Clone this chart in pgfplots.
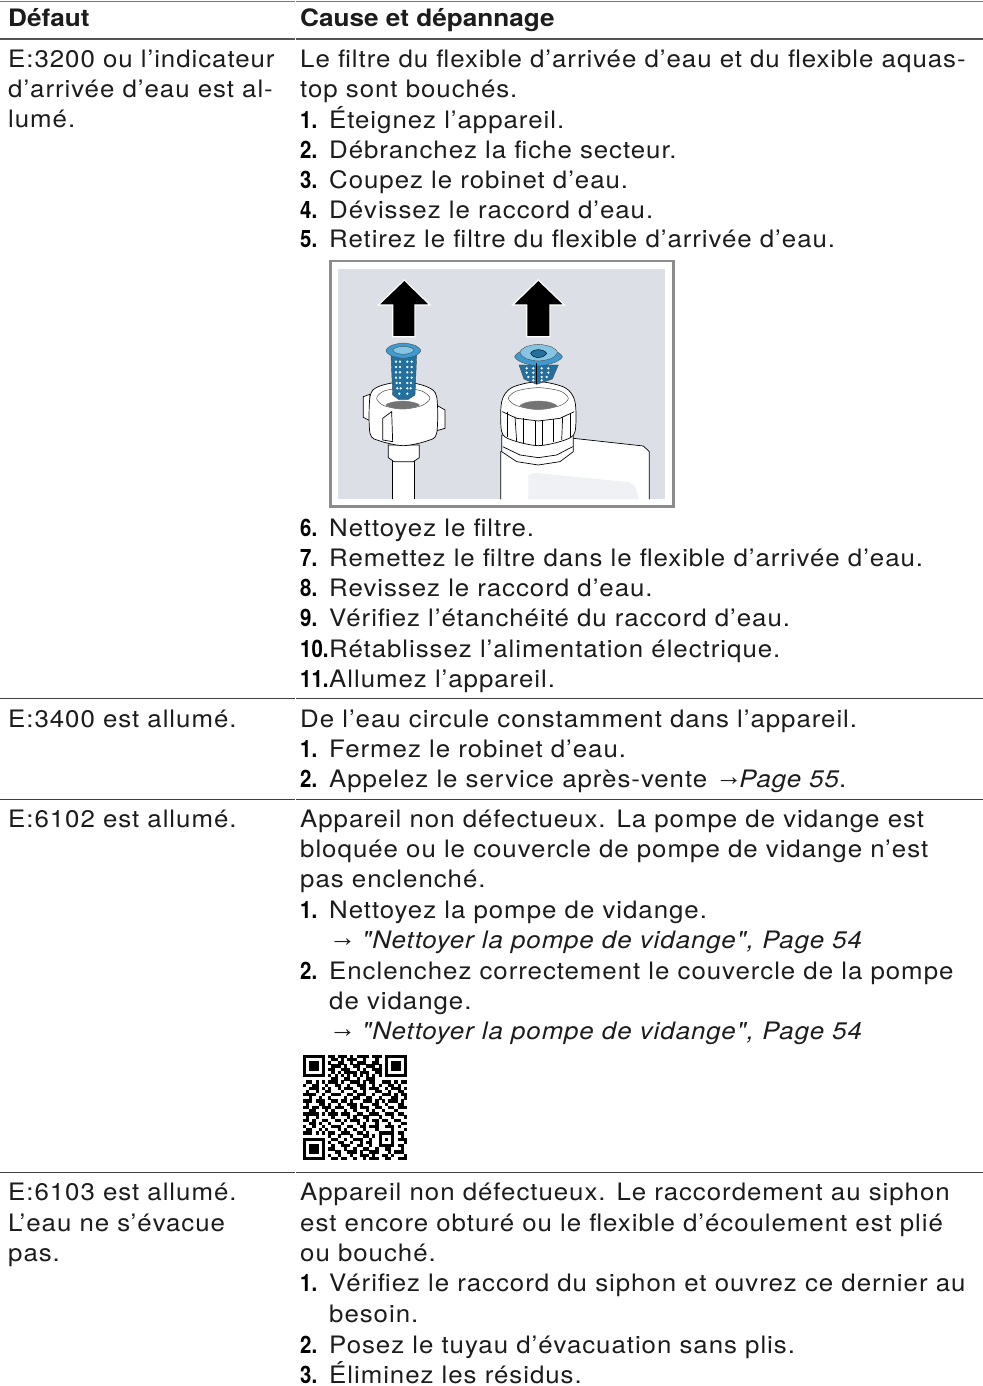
\documentclass[border=0pt]{standalone}
\usepackage{pgfplots}
\usepackage{fontspec}
\pgfplotsset{compat=1.18}
\setmainfont[Ligatures=TeXOff,LetterSpace=4,FakeStretch=1.077,BoldFeatures={LetterSpace=0,FakeStretch=1.09},ItalicFeatures={LetterSpace=4,FakeStretch=1.077}]{TeX Gyre Heros}
\newfontfamily\numf[FakeStretch=0.85]{TeX Gyre Heros}
\newfontfamily\sym{Liberation Sans}
\definecolor{ink}{HTML}{1C1C1C}
\definecolor{rule}{HTML}{555555}
\definecolor{bg}{HTML}{DCDFE6}
\definecolor{frm}{HTML}{8C8C8C}
\definecolor{blueA}{HTML}{3E9AD0}
\definecolor{blueB}{HTML}{23709F}
\definecolor{blueC}{HTML}{86C4E4}
\newcommand{\Tx}[3]{\node[anchor=base west,inner sep=0pt,text=ink,font=\fontsize{24bp}{29bp}\selectfont] at (axis cs:#1,#2) {#3};}
\newcommand{\Nm}[3]{\node[anchor=base west,inner sep=0pt,text=black,font=\fontsize{24bp}{29bp}\numf\bfseries] at (axis cs:#1,#2) {#3};}
\newcommand{\Ar}{\raisebox{1.5bp}{\sym\fontsize{27bp}{29bp}\selectfont →}}
\pgfplotsset{pl/.style={draw=black,line width=0.7bp,fill=white}}
\begin{document}
\begin{tikzpicture}
\path[use as bounding box,fill=white] (0,0) rectangle (983bp,1386bp);
\begin{axis}[at={(0,0)},anchor=south west,scale only axis,width=983bp,height=1386bp,xmin=0,xmax=983,ymin=0,ymax=1386,y dir=reverse,hide axis,clip=false]
\addplot[rule!80,line width=0.9bp,forget plot] coordinates {(0,1)(294.5,1)};
\addplot[rule!80,line width=0.9bp,forget plot] coordinates {(295.8,1)(983,1)};
\addplot[rule,line width=1.6bp,forget plot] coordinates {(0,39)(294.5,39)};
\addplot[rule,line width=1.6bp,forget plot] coordinates {(295.8,39)(983,39)};
\addplot[black!75,line width=1bp,forget plot] coordinates {(0,698.7)(294.5,698.7)};
\addplot[black!75,line width=1bp,forget plot] coordinates {(295.8,698.7)(983,698.7)};
\addplot[black!75,line width=1bp,forget plot] coordinates {(0,799)(294.5,799)};
\addplot[black!75,line width=1bp,forget plot] coordinates {(295.8,799)(983,799)};
\addplot[black!75,line width=1bp,forget plot] coordinates {(0,1172.7)(294.5,1172.7)};
\addplot[black!75,line width=1bp,forget plot] coordinates {(295.8,1172.7)(983,1172.7)};
\Tx{8}{27}{\textbf{Défaut}}
\Tx{300}{27}{\textbf{Cause et dépannage}}
\Tx{8}{68}{E:3200 ou l’indicateur}
\Tx{8}{98}{d’arrivée d’eau est al-}
\Tx{8}{128}{lumé.}
\Tx{300}{68}{Le filtre du flexible d’arrivée d’eau et du flexible aquas-}
\Tx{300}{98}{top sont bouchés.}
\Nm{300}{128.5}{1.}\Tx{329}{128.5}{Éteignez l’appareil.}
\Nm{300}{158.5}{2.}\Tx{329}{158.5}{Débranchez la fiche secteur.}
\Nm{300}{188.5}{3.}\Tx{329}{188.5}{Coupez le robinet d’eau.}
\Nm{300}{218.5}{4.}\Tx{329}{218.5}{Dévissez le raccord d’eau.}
\Nm{300}{248}{5.}\Tx{329}{248}{Retirez le filtre du flexible d’arrivée d’eau.}
\Nm{300}{536}{6.}\Tx{329}{536}{Nettoyez le filtre.}
\Nm{300}{566}{7.}\Tx{329}{566}{Remettez le filtre dans le flexible d’arrivée d’eau.}
\Nm{300}{596.5}{8.}\Tx{329}{596.5}{Revissez le raccord d’eau.}
\Nm{300}{626.7}{9.}\Tx{329}{626.7}{Vérifiez l’étanchéité du raccord d’eau.}
\Nm{300}{657.3}{10.}\Tx{329}{657.3}{Rétablissez l’alimentation électrique.}
\Nm{300}{687.3}{11.}\Tx{329}{687.3}{Allumez l’appareil.}
\Tx{8}{727.3}{E:3400 est allumé.}
\Tx{300}{727.3}{De l’eau circule constamment dans l’appareil.}
\Nm{300}{757.3}{1.}\Tx{329}{757.3}{Fermez le robinet d’eau.}
\Nm{300}{787.3}{2.}\Tx{329}{787.3}{Appelez le service après-vente \Ar\hspace{-3bp}\textit{Page 55}.}
\Tx{8}{827.3}{E:6102 est allumé.}
\Tx{300}{827.3}{Appareil non défectueux. La pompe de vidange est}
\Tx{300}{857.3}{bloquée ou le couvercle de pompe de vidange n’est}
\Tx{300}{887.3}{pas enclenché.}
\Nm{300}{918.7}{1.}\Tx{329}{918.7}{Nettoyez la pompe de vidange.}
\Tx{329}{948.3}{\Ar\hspace{6bp}\textit{"Nettoyer la pompe de vidange", Page 54}}
\Nm{300}{979.3}{2.}\Tx{329}{979.3}{Enclenchez correctement le couvercle de la pompe}
\Tx{329}{1009.3}{de vidange.}
\Tx{329}{1039.3}{\Ar\hspace{6bp}\textit{"Nettoyer la pompe de vidange", Page 54}}
\Tx{8}{1200.5}{E:6103 est allumé.}
\Tx{8}{1231}{L’eau ne s’évacue}
\Tx{8}{1261}{pas.}
\Tx{300}{1200.5}{Appareil non défectueux. Le raccordement au siphon}
\Tx{300}{1231}{est encore obturé ou le flexible d’écoulement est plié}
\Tx{300}{1261}{ou bouché.}
\Nm{300}{1291.7}{1.}\Tx{329}{1291.7}{Vérifiez le raccord du siphon et ouvrez ce dernier au}
\Tx{329}{1322.3}{besoin.}
\Nm{300}{1353.3}{2.}\Tx{329}{1353.3}{Posez le tuyau d’évacuation sans plis.}
\Nm{300}{1383.3}{3.}\Tx{329}{1383.3}{Éliminez les résidus.}
\end{axis}
% illustration, in 3x crop coordinates
\begin{axis}[at={(320bp,876bp)},anchor=south west,scale only axis,width=360bp,height=255bp,xmin=0,xmax=1080,ymin=0,ymax=765,y dir=reverse,hide axis]
\addplot[draw=frm,line width=2.6bp,fill=white] coordinates {(32,18)(1060,18)(1060,755)(32,755)} -- cycle;
\addplot[draw=none,fill=bg] coordinates {(55,42)(1035,42)(1035,733)(55,733)} -- cycle;
% bottle
\addplot[pl] coordinates {(542,733)(542,590)(760,550)(970,573)(988,590)(988,733)};
\addplot[draw=none,fill=bg!45] coordinates {(625,733)(625,660)(640,653)(930,682)(945,695)(957,733)};
\addplot[pl] coordinates {(545,540)(545,590)(590,620)(655,630)(720,620)(760,590)(760,540)} -- cycle;
\addplot[draw=black,line width=0.7bp] coordinates {(548,575)(600,600)(655,608)(710,600)(758,575)};
% bottle nut
\addplot[pl,smooth cycle] coordinates {(545,440)(575,398)(655,380)(735,398)(765,440)(765,530)(735,555)(655,572)(575,555)(545,530)};
\addplot[draw=black!70,fill=white,line width=0.5bp,smooth cycle] coordinates {(565,430)(590,408)(655,398)(720,408)(745,430)(720,452)(655,462)(590,452)};
\addplot[draw=black!50,fill=black!55,line width=0.4bp,smooth cycle] coordinates {(600,452)(620,442)(655,438)(690,442)(710,452)(690,460)(655,464)(620,460)};
\addplot[draw=black,line width=0.7bp,forget plot] coordinates {(547,470)(590,490)(655,498)(720,490)(763,470)};
\addplot[draw=black,line width=0.7bp] coordinates {(562,470)(562,545)};
\addplot[draw=black,line width=0.7bp] coordinates {(585,485)(590,560)};
\addplot[draw=black,line width=0.7bp] coordinates {(610,490)(610,565)};
\addplot[draw=black,line width=0.7bp] coordinates {(645,498)(645,570)};
\addplot[draw=black,line width=0.7bp] coordinates {(668,498)(668,570)};
\addplot[draw=black,line width=0.7bp] coordinates {(700,492)(700,562)};
\addplot[draw=black,line width=0.7bp] coordinates {(728,485)(725,555)};
\addplot[draw=black,line width=0.7bp] coordinates {(750,475)(750,545)};
% right filter
\addplot[draw=black!70,fill=blueB,line width=0.4bp] coordinates {(597,330)(715,330)(697,372)(650,388)(612,372)} -- cycle;
\addplot[only marks,mark=*,mark size=0.9bp,white] coordinates {(620,340)(640,340)(665,340)(685,340)(620,353)(640,353)(665,353)(685,353)(625,366)(640,366)(665,366)(680,366)(640,376)(665,376)};
\addplot[draw=black!70,fill=blueA,line width=0.4bp,smooth cycle] coordinates {(584,305)(605,288)(655,278)(705,288)(727,305)(705,322)(655,333)(605,322)};
\addplot[draw=black!70,fill=blueC,line width=0.4bp,smooth cycle] coordinates {(600,292)(616,276)(655,268)(695,276)(712,292)(695,310)(655,318)(616,310)};
\addplot[draw=black,fill=blueB,line width=0.4bp,smooth cycle] coordinates {(632,295)(640,287)(655,284)(670,287)(680,295)(670,304)(655,308)(640,304)};
\addplot[draw=black,line width=0.7bp] coordinates {(648,325)(648,388)};
% left tube and nut
\addplot[pl] coordinates {(218,733)(218,615)(282,615)(282,733)};
\addplot[pl] coordinates {(205,570)(205,608)(222,620)(280,620)(298,608)(298,570)} -- cycle;
\addplot[pl] coordinates {(130,425)(150,418)(150,497)(130,487)} -- cycle;
\addplot[pl] coordinates {(340,445)(375,465)(375,520)(340,530)} -- cycle;
\addplot[pl,smooth cycle] coordinates {(150,425)(175,395)(248,380)(320,395)(350,425)(350,535)(320,558)(250,572)(180,558)(150,535)};
\addplot[draw=black!70,fill=white,line width=0.5bp,smooth cycle] coordinates {(170,430)(192,408)(248,400)(305,408)(330,430)(305,452)(248,462)(192,452)};
\addplot[draw=black!50,fill=black!55,line width=0.4bp,smooth cycle] coordinates {(198,450)(215,442)(248,438)(280,442)(298,450)(280,458)(248,462)(215,458)};
\addplot[pl] coordinates {(188,490)(215,470)(218,560)(188,555)} -- cycle;
% left filter
\addplot[draw=black!70,fill=blueB,line width=0.4bp] coordinates {(213,300)(290,300)(285,420)(265,433)(235,433)(218,420)} -- cycle;
\addplot[only marks,mark=*,mark size=0.9bp,white] coordinates {(228,320)(240,320)(262,320)(275,320)(228,336)(240,336)(262,336)(275,336)(228,352)(240,352)(262,352)(275,352)(228,368)(240,368)(262,368)(275,368)(230,384)(240,384)(262,384)(273,384)(232,400)(242,400)(262,400)(272,400)(238,416)(262,416)};
\addplot[draw=black!70,fill=blueA,line width=0.4bp,smooth cycle] coordinates {(198,287)(213,272)(250,264)(287,272)(302,287)(287,302)(250,310)(213,302)};
\addplot[draw=black!70,fill=blueC,line width=0.4bp,smooth cycle] coordinates {(218,285)(228,278)(250,274)(272,278)(282,285)(272,294)(250,298)(228,294)};
% arrows
\addplot[draw=white,line width=1.2bp,fill=black] coordinates {(253,75)(330,150)(285,150)(285,245)(218,245)(218,150)(175,150)} -- cycle;
\addplot[draw=white,line width=1.2bp,fill=black] coordinates {(655,75)(733,150)(690,150)(690,245)(620,245)(620,150)(578,150)} -- cycle;
\end{axis}
% QR code, in module coordinates
\begin{axis}[at={(303bp,226bp)},anchor=south west,scale only axis,width=104bp,height=105bp,xmin=0,xmax=33,ymin=-0.5,ymax=32.5,y dir=reverse,hide axis]
\addplot[black,line width=3.3bp,quiver={u=\thisrowno{2},v=0}] table[header=false,row sep=\\,x index=0,y index=1] {
0 0 7\\8 0 2\\11 0 3\\15 0 1\\17 0 4\\22 0 3\\26 0 7\\
0 1 1\\6 1 1\\9 1 2\\12 1 1\\14 1 3\\19 1 1\\23 1 1\\26 1 1\\32 1 1\\
0 2 1\\2 2 3\\6 2 1\\8 2 1\\11 2 2\\15 2 1\\17 2 3\\22 2 2\\26 2 1\\28 2 3\\32 2 1\\
0 3 1\\2 3 3\\6 3 1\\9 3 3\\13 3 1\\16 3 2\\20 3 3\\24 3 1\\26 3 1\\28 3 3\\32 3 1\\
0 4 1\\2 4 3\\6 4 1\\8 4 2\\12 4 3\\17 4 1\\19 4 1\\22 4 3\\26 4 1\\28 4 3\\32 4 1\\
0 5 1\\6 5 1\\9 5 1\\11 5 1\\13 5 4\\18 5 3\\23 5 2\\26 5 1\\32 5 1\\
0 6 7\\8 6 1\\10 6 1\\12 6 1\\14 6 1\\16 6 1\\18 6 1\\20 6 1\\22 6 1\\24 6 1\\26 6 7\\
9 7 2\\13 7 2\\17 7 1\\20 7 3\\
1 8 2\\4 8 1\\6 8 1\\8 8 3\\12 8 1\\15 8 3\\19 8 1\\21 8 2\\25 8 3\\29 8 1\\31 8 2\\
0 9 1\\3 9 2\\7 9 1\\10 9 2\\14 9 1\\17 9 3\\22 9 1\\24 9 1\\27 9 2\\30 9 1\\
2 10 3\\6 10 1\\8 10 1\\11 10 1\\13 10 3\\18 10 2\\21 10 3\\26 10 1\\28 10 3\\32 10 1\\
1 11 1\\4 11 1\\7 11 2\\12 11 1\\16 11 1\\19 11 1\\23 11 2\\27 11 1\\30 11 2\\
0 12 4\\6 12 1\\9 12 3\\14 12 2\\17 12 3\\22 12 1\\25 12 3\\29 12 1\\31 12 2\\
2 13 1\\5 13 1\\8 13 1\\13 13 1\\16 13 2\\20 13 2\\24 13 1\\28 13 2\\32 13 1\\
0 14 3\\4 14 3\\9 14 2\\12 14 2\\15 14 1\\19 14 3\\23 14 1\\25 14 1\\27 14 3\\31 14 1\\
1 15 1\\5 15 2\\8 15 1\\11 15 1\\14 15 3\\18 15 1\\22 15 2\\26 15 1\\30 15 2\\
0 16 2\\3 16 2\\6 16 3\\10 16 3\\15 16 2\\18 16 3\\23 16 2\\27 16 2\\30 16 3\\
2 17 2\\7 17 1\\9 17 1\\13 17 1\\16 17 1\\20 17 1\\22 17 1\\25 17 1\\29 17 1\\
0 18 5\\6 18 1\\8 18 3\\12 18 3\\17 18 2\\21 18 3\\26 18 3\\30 18 2\\
1 19 1\\4 19 1\\9 19 1\\14 19 1\\16 19 1\\19 19 2\\24 19 1\\28 19 1\\32 19 1\\
0 20 2\\3 20 1\\6 20 2\\10 20 2\\13 20 1\\15 20 3\\20 20 1\\22 20 2\\25 20 2\\29 20 2\\
2 21 2\\5 21 1\\8 21 1\\12 21 1\\17 21 1\\19 21 1\\23 21 1\\27 21 1\\31 21 2\\
0 22 1\\3 22 1\\6 22 1\\9 22 3\\14 22 2\\18 22 2\\21 22 3\\26 22 3\\30 22 1\\
1 23 2\\5 23 1\\7 23 1\\11 23 1\\13 23 1\\16 23 1\\19 23 1\\23 23 1\\28 23 1\\32 23 1\\
0 24 3\\4 24 1\\6 24 1\\8 24 2\\12 24 3\\17 24 2\\20 24 1\\24 24 5\\30 24 2\\
8 25 1\\11 25 1\\15 25 1\\19 25 2\\22 25 1\\24 25 1\\28 25 1\\31 25 1\\
0 26 7\\9 26 2\\13 26 1\\16 26 3\\21 26 1\\24 26 1\\26 26 1\\28 26 1\\30 26 3\\
0 27 1\\6 27 1\\8 27 1\\11 27 2\\15 27 1\\18 27 1\\20 27 2\\24 27 1\\28 27 1\\32 27 1\\
0 28 1\\2 28 3\\6 28 1\\9 28 1\\12 28 3\\17 28 2\\21 28 1\\24 28 5\\30 28 2\\
0 29 1\\2 29 3\\6 29 1\\8 29 2\\13 29 1\\16 29 1\\19 29 2\\23 29 1\\26 29 2\\31 29 1\\
0 30 1\\2 30 3\\6 30 1\\10 30 2\\14 30 3\\18 30 1\\21 30 3\\27 30 1\\29 30 3\\
0 31 1\\6 31 1\\8 31 1\\11 31 1\\15 31 1\\18 31 3\\22 31 1\\25 31 2\\28 31 1\\32 31 1\\
0 32 7\\9 32 2\\12 32 2\\16 32 1\\19 32 1\\21 32 3\\26 32 2\\30 32 3\\
};
\end{axis}
\end{tikzpicture}
\end{document}
